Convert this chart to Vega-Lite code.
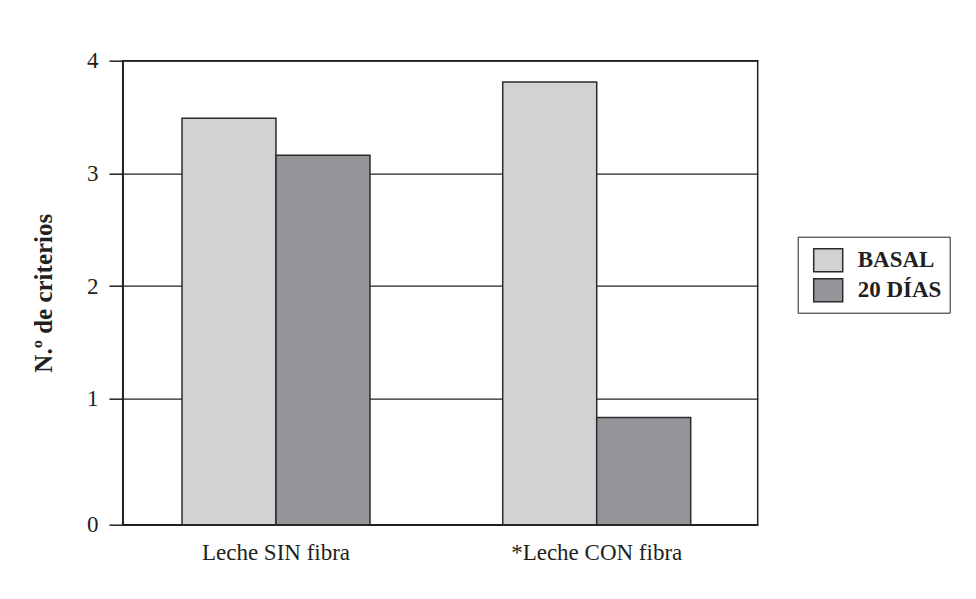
{
  "$schema": "https://vega.github.io/schema/vega-lite/v6.json",
  "width": 635,
  "height": 464,
  "autosize": {"type": "none"},
  "padding": {"left": 122.7, "top": 60.7, "right": 218.3, "bottom": 74.3},
  "background": "white",
  "data": {
    "values": [
      {"grupo": "Leche SIN fibra", "momento": "BASAL", "criterios": 3.49},
      {"grupo": "Leche SIN fibra", "momento": "20 DÍAS", "criterios": 3.16},
      {"grupo": "*Leche CON fibra", "momento": "BASAL", "criterios": 3.81},
      {"grupo": "*Leche CON fibra", "momento": "20 DÍAS", "criterios": 0.85}
    ]
  },
  "mark": {"type": "bar", "stroke": "#2b2b2b", "strokeWidth": 1.5},
  "encoding": {
    "x": {
      "field": "grupo",
      "type": "nominal",
      "sort": ["Leche SIN fibra", "*Leche CON fibra"],
      "scale": {"paddingInner": 0.044, "paddingOuter": 0.012, "align": 0},
      "axis": {
        "title": null,
        "labelAngle": 0,
        "ticks": false,
        "labelPadding": 17,
        "labelFont": "Liberation Serif",
        "labelFontSize": 23,
        "labelColor": "#231f20",
        "domainColor": "#231f20",
        "domainWidth": 1.5,
        "grid": false
      }
    },
    "xOffset": {
      "field": "momento",
      "type": "nominal",
      "sort": ["BASAL", "20 DÍAS"],
      "scale": {"paddingInner": 0, "paddingOuter": 0.631}
    },
    "y": {
      "field": "criterios",
      "type": "quantitative",
      "scale": {"domain": [0, 1, 4], "range": [464, 338, 0], "nice": false, "zero": false},
      "axis": {
        "values": [0, 1, 2, 3, 4],
        "title": "N.º de criterios",
        "titleFont": "Liberation Serif",
        "titleFontSize": 25,
        "titleFontWeight": "bold",
        "titleColor": "#231f20",
        "titlePadding": 30,
        "labelFont": "Liberation Serif",
        "labelFontSize": 23,
        "labelColor": "#231f20",
        "labelPadding": 11,
        "tickSize": 13.7,
        "tickColor": "#231f20",
        "tickWidth": 1.5,
        "domainColor": "#231f20",
        "domainWidth": 1.5,
        "grid": true,
        "gridColor": "#231f20",
        "gridWidth": 1.2
      }
    },
    "color": {
      "field": "momento",
      "type": "nominal",
      "sort": ["BASAL", "20 DÍAS"],
      "scale": {"domain": ["BASAL", "20 DÍAS"], "range": ["#d1d2d4", "#939598"]},
      "legend": {
        "orient": "none",
        "legendX": 675,
        "legendY": 176,
        "title": null,
        "strokeColor": "#231f20",
        "padding": 8,
        "symbolType": "M-1,-0.793H1V0.793H-1Z",
        "symbolSize": 841,
        "symbolStrokeColor": "#2b2b2b",
        "symbolStrokeWidth": 1.5,
        "symbolOpacity": 1,
        "symbolOffset": 7,
        "labelFont": "Liberation Serif",
        "labelFontSize": 23,
        "labelFontWeight": "bold",
        "labelColor": "#231f20",
        "labelOffset": 14,
        "rowPadding": -1
      }
    }
  },
  "config": {
    "view": {"stroke": "#231f20", "strokeWidth": 1.5}
  }
}
